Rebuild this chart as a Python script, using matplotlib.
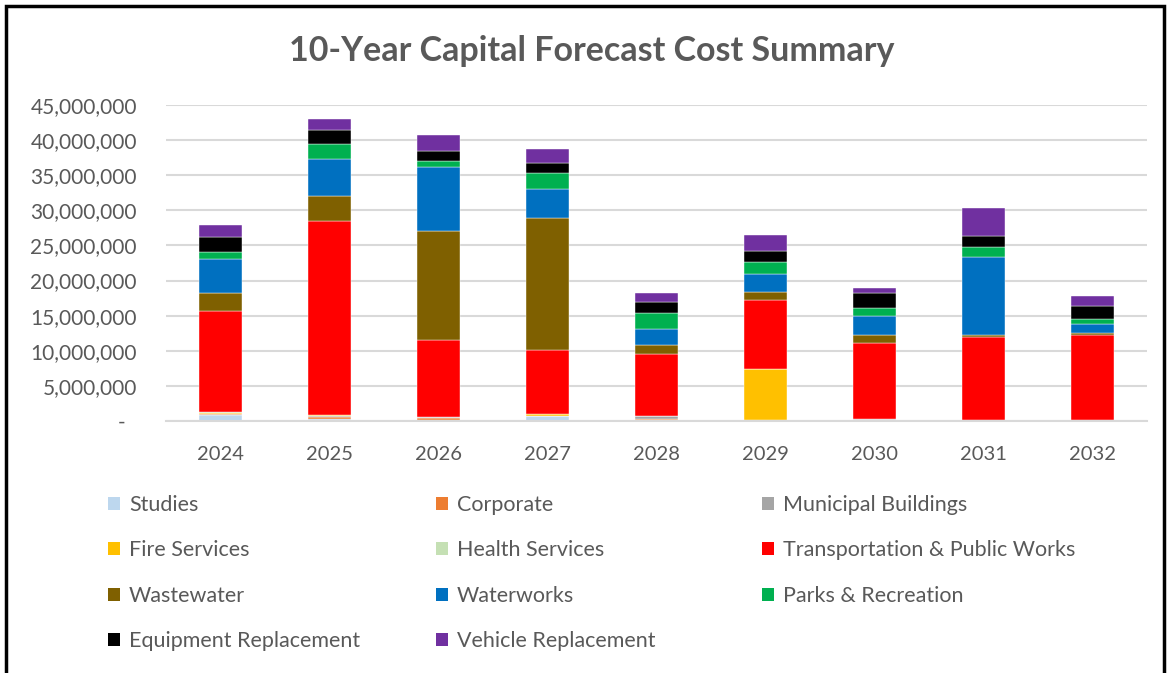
import numpy as np
import matplotlib
matplotlib.use("Agg")
import matplotlib.pyplot as plt
from matplotlib.patches import Patch, Rectangle
from matplotlib.ticker import FuncFormatter

# datos (millones)
years = ["2024", "2025", "2026", "2027", "2028", "2029", "2030", "2031", "2032"]
studies = np.array([0.8, 0.3, 0.1, 0.65, 0.1, 0.1, 0.1, 0.05, 0.05])
corporate = np.array([0.2, 0.2, 0.35, 0.1, 0.15, 0.0, 0.1, 0.05, 0.05])
municipal = np.array([0.0, 0.2, 0.05, 0.0, 0.4, 0.0, 0.1, 0.0, 0.0])
fire = np.array([0.2, 0.1, 0.05, 0.3, 0.1, 7.35, 0.05, 0.0, 0.0])
health = np.array([0.05, 0.0, 0.0, 0.0, 0.0, 0.0, 0.0, 0.0, 0.0])
transport = np.array([14.35, 27.7, 10.95, 9.05, 8.75, 9.8, 10.7, 11.8, 12.1])
wastewater = np.array([2.6, 3.5, 15.56, 18.86, 1.28, 1.1, 1.24, 0.35, 0.38])
waterworks = np.array([4.9, 5.3, 9.04, 4.04, 2.27, 2.6, 2.7, 11.05, 1.19])
parks = np.array([0.95, 2.2, 0.97, 2.27, 2.38, 1.7, 1.15, 1.5, 0.8])
equipment = np.array([2.1, 1.95, 1.43, 1.43, 1.47, 1.55, 2.13, 1.6, 1.81])
vehicle = np.array([1.8, 1.55, 2.23, 2.1, 1.38, 2.25, 0.62, 4.0, 1.37])

series = [
    ("Studies", studies, "#BDD7EE"),
    ("Corporate", corporate, "#ED7D31"),
    ("Municipal Buildings", municipal, "#A5A5A5"),
    ("Fire Services", fire, "#FFC000"),
    ("Health Services", health, "#C5E0B4"),
    ("Transportation & Public Works", transport, "#FF0000"),
    ("Wastewater", wastewater, "#7F6000"),
    ("Waterworks", waterworks, "#0070C0"),
    ("Parks & Recreation", parks, "#00B050"),
    ("Equipment Replacement", equipment, "#000000"),
    ("Vehicle Replacement", vehicle, "#7030A0"),
]

plt.rcParams["font.family"] = ["Lato", "DejaVu Sans"]
gris = "#595959"

fig = plt.figure(figsize=(11.69, 6.73), dpi=100)
ax = fig.add_axes([166 / 1169, 1 - 421 / 673, (1147 - 166) / 1169, 316 / 673])

x = np.arange(len(years))
bottom = np.zeros(len(years))
handles = {}
for name, vals, color in series:
    ax.bar(x, vals * 1e6, 0.4, bottom=bottom * 1e6, color=color,
           edgecolor="white", linewidth=0.3)
    bottom += vals
    handles[name] = Patch(facecolor=color, label=name)

ax.set_xlim(-0.5, len(years) - 0.5)
ax.set_ylim(0, 45e6)
ax.set_yticks(np.arange(0, 45e6 + 1, 5e6))
ax.yaxis.set_major_formatter(FuncFormatter(lambda v, p: "-  " if v == 0 else "{:,.0f}".format(v)))
ax.set_xticks(x)
ax.set_xticklabels(years)
ax.tick_params(length=0, colors=gris)
ax.tick_params(axis="y", pad=21, labelsize=15)
ax.tick_params(axis="x", pad=18, labelsize=14.5)
ax.grid(axis="y", color="#D9D9D9", linewidth=1.5)
ax.set_axisbelow(True)
for s in ["top", "right", "left"]:
    ax.spines[s].set_visible(False)
ax.spines["bottom"].set_color("#D9D9D9")
ax.spines["bottom"].set_linewidth(1.5)

fig.text(592 / 1169, 1 - 51 / 673, "10-Year Capital Forecast Cost Summary", ha="center", va="center",
         fontsize=24.5, fontweight="bold", color=gris)

# leyenda en tres columnas
columnas = [
    ["Studies", "Fire Services", "Wastewater", "Equipment Replacement"],
    ["Corporate", "Health Services", "Waterworks", "Vehicle Replacement"],
    ["Municipal Buildings", "Transportation & Public Works", "Parks & Recreation"],
]
x_col = [108, 436, 762]
for xc, col in zip(x_col, columnas):
    fig.legend(handles=[handles[n] for n in col], loc="upper left",
               bbox_to_anchor=(xc / 1169, 1 - 495 / 673), frameon=False,
               fontsize=15.5, labelcolor=gris, handlelength=0.58, handleheight=0.58,
               handletextpad=0.4, labelspacing=1.18, borderaxespad=0, borderpad=0)

fig.add_artist(Rectangle((6 / 1169, -0.02), 1158 / 1169, 1.02 - 6 / 673, transform=fig.transFigure,
                         fill=False, edgecolor="black", linewidth=2.5))

fig.savefig("out.png", dpi=100)
